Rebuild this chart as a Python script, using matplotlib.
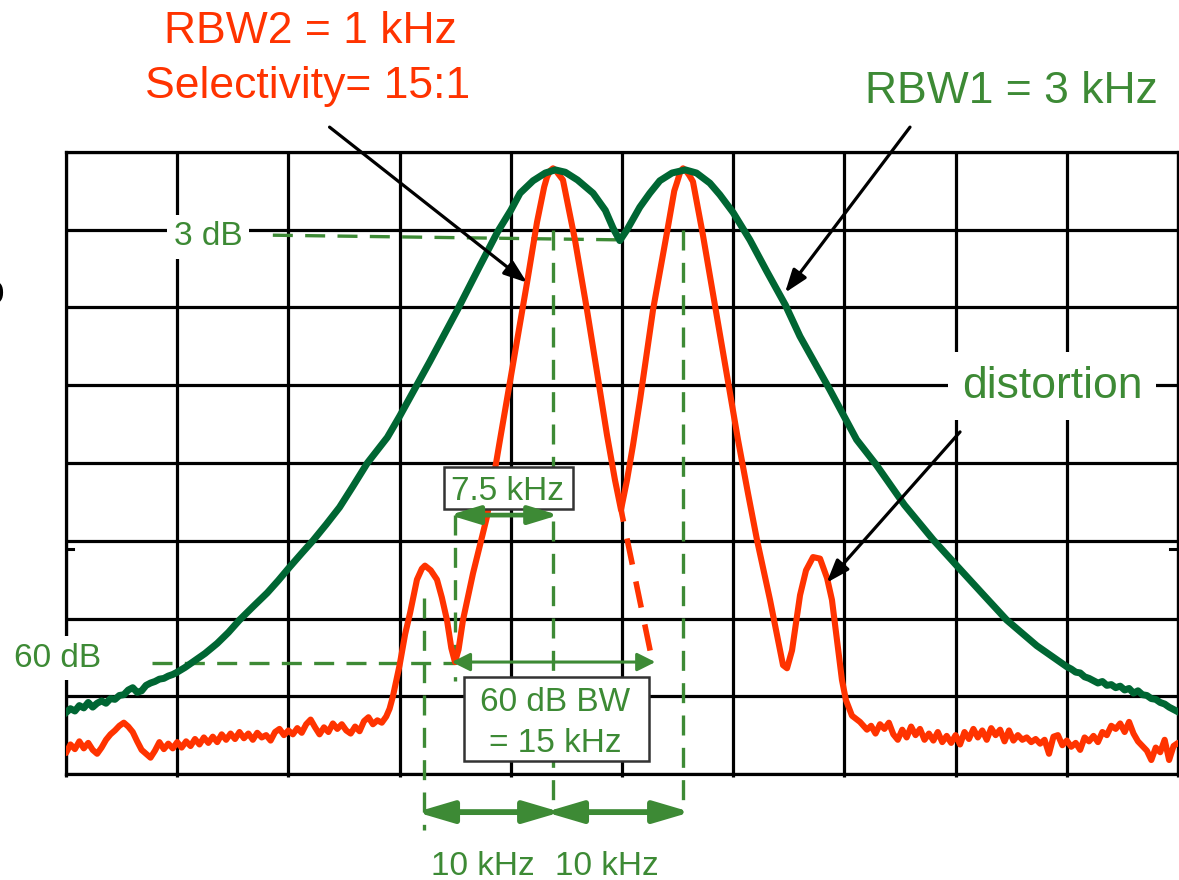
import matplotlib
matplotlib.use("Agg")
import matplotlib.pyplot as plt
from matplotlib.patches import Rectangle

plt.rcParams['font.family'] = ['Liberation Sans', 'DejaVu Sans']

# ---------------- data (x in display divisions from centre, y in dB) ----------------
# RBW2 = 1 kHz trace (orange-red)
rbw2_noise_left = [
    (-5.00, -77.3), (-4.96, -76.2), (-4.92, -76.8), (-4.88, -75.8), (-4.84, -76.7), (-4.80, -76.0),
    (-4.76, -76.9), (-4.72, -77.4), (-4.68, -76.6), (-4.64, -75.6), (-4.60, -74.9), (-4.56, -74.4),
    (-4.52, -73.8), (-4.48, -73.4), (-4.44, -73.9), (-4.40, -74.6), (-4.36, -75.8), (-4.32, -76.9),
    (-4.28, -77.4), (-4.24, -77.9), (-4.20, -77.0), (-4.16, -75.9), (-4.12, -76.8), (-4.08, -76.1),
    (-4.04, -76.7), (-4.00, -75.9), (-3.96, -76.6), (-3.92, -75.8), (-3.88, -76.4), (-3.84, -75.5),
    (-3.80, -76.2), (-3.76, -75.3), (-3.72, -76.0), (-3.68, -75.2), (-3.64, -75.9), (-3.60, -74.9),
    (-3.56, -75.6), (-3.52, -74.8), (-3.48, -75.5), (-3.44, -74.6), (-3.40, -75.4), (-3.36, -74.8),
    (-3.32, -75.6), (-3.28, -74.7), (-3.24, -75.3), (-3.20, -75.0), (-3.16, -75.7), (-3.12, -74.6),
    (-3.08, -74.2), (-3.04, -75.0), (-3.00, -74.4), (-2.96, -74.9), (-2.92, -74.1), (-2.88, -74.7),
    (-2.84, -73.6), (-2.80, -73.0), (-2.76, -74.0), (-2.72, -74.9), (-2.68, -74.0), (-2.64, -74.6),
    (-2.60, -73.5), (-2.56, -74.2), (-2.52, -73.6), (-2.48, -74.4), (-2.44, -74.8), (-2.40, -73.9),
    (-2.36, -74.5), (-2.32, -73.2), (-2.28, -72.7), (-2.24, -73.6), (-2.20, -73.1), (-2.16, -73.4),
    (-2.12, -72.6), (-2.09, -71.6),
]
rbw2_signal = [
    (-2.06, -70.0), (-2.00, -66.0), (-1.95, -62.0), (-1.906, -59.3), (-1.844, -55.0), (-1.80, -53.6),
    (-1.772, -53.2), (-1.72, -53.8), (-1.664, -55.0), (-1.62, -57.3), (-1.574, -60.2), (-1.535, -63.8),
    (-1.502, -65.6), (-1.47, -64.0), (-1.43, -60.2), (-1.34, -54.2), (-1.214, -46.9), (-1.097, -37.0),
    (-0.998, -28.8), (-0.854, -16.8), (-0.764, -9.0), (-0.70, -4.5), (-0.674, -3.2), (-0.645, -2.4),
    (-0.62, -2.1), (-0.595, -2.4), (-0.531, -3.6), (-0.423, -11.3), (-0.315, -20.3), (-0.225, -28.3),
    (-0.135, -36.4), (-0.063, -42.2), (-0.009, -46.0), (0.045, -42.2), (0.099, -37.7), (0.162, -31.9),
    (0.279, -20.3), (0.405, -10.3), (0.47, -5.0), (0.495, -3.9), (0.525, -2.5), (0.549, -2.1),
    (0.575, -2.4), (0.605, -3.0), (0.638, -3.8), (0.728, -10.7), (0.836, -19.7), (0.944, -28.7),
    (1.043, -37.0), (1.133, -43.9), (1.214, -49.9), (1.331, -57.6), (1.403, -62.8), (1.448, -66.0),
    (1.484, -66.4), (1.529, -64.1), (1.601, -57.0), (1.655, -53.8), (1.718, -52.1), (1.781, -52.3),
    (1.844, -54.8), (1.888, -57.6), (1.933, -62.8), (1.978, -67.9), (2.014, -70.5), (2.068, -72.5),
    (2.14, -73.3), (2.203, -74.3),
]
rbw2_noise_right = [
    (2.24, -73.8), (2.28, -74.8), (2.32, -73.6), (2.36, -74.2), (2.40, -73.4), (2.44, -74.9),
    (2.48, -75.6), (2.52, -74.3), (2.56, -75.3), (2.60, -73.9), (2.64, -75.0), (2.68, -74.2),
    (2.72, -75.6), (2.76, -74.8), (2.80, -75.7), (2.84, -74.6), (2.88, -75.9), (2.92, -75.1),
    (2.96, -76.0), (3.00, -75.0), (3.04, -76.2), (3.08, -74.6), (3.12, -75.5), (3.16, -74.2),
    (3.20, -75.3), (3.24, -74.4), (3.28, -75.6), (3.32, -74.1), (3.36, -75.0), (3.40, -74.3),
    (3.44, -75.8), (3.48, -74.4), (3.52, -75.7), (3.56, -75.0), (3.60, -75.6), (3.64, -75.3),
    (3.68, -75.9), (3.72, -75.5), (3.76, -76.1), (3.80, -75.6), (3.84, -77.4), (3.88, -75.2),
    (3.92, -75.0), (3.96, -76.3), (4.00, -75.7), (4.04, -76.5), (4.08, -76.0), (4.12, -76.9),
    (4.16, -75.3), (4.20, -75.8), (4.24, -75.1), (4.28, -75.9), (4.32, -74.6), (4.36, -75.0),
    (4.40, -73.8), (4.44, -74.2), (4.48, -73.5), (4.52, -74.6), (4.56, -73.3), (4.60, -74.8),
    (4.64, -75.8), (4.68, -76.4), (4.72, -77.0), (4.76, -78.2), (4.80, -76.6), (4.84, -77.2),
    (4.88, -75.6), (4.92, -78.2), (4.96, -76.4), (5.00, -76.0),
]
# dashed continuation of the first RBW2 response below the dip
rbw2_extension = [(-0.009, -46.0), (0.27, -65.3)]

# RBW1 = 3 kHz trace (dark green)
rbw1_tail_left = [
    (-5.00, -72.1), (-4.96, -71.6), (-4.92, -71.9), (-4.88, -71.2), (-4.84, -71.5), (-4.80, -70.8),
    (-4.76, -71.4), (-4.72, -70.9), (-4.68, -70.6), (-4.64, -70.9), (-4.60, -70.3), (-4.56, -70.4),
    (-4.52, -69.9), (-4.48, -69.8), (-4.44, -69.2), (-4.40, -68.9), (-4.36, -69.5), (-4.32, -69.3),
    (-4.28, -68.6), (-4.24, -68.3), (-4.20, -68.1), (-4.16, -67.8), (-4.12, -67.7), (-4.08, -67.4),
    (-4.04, -67.2), (-4.00, -66.9),
]
rbw1_main = [
    (-3.93, -66.3), (-3.86, -65.6), (-3.75, -64.5), (-3.64, -63.2), (-3.54, -61.8), (-3.44, -60.2),
    (-3.32, -58.5), (-3.19, -56.7), (-3.09, -55.1), (-2.99, -53.4), (-2.88, -51.6), (-2.78, -50.0),
    (-2.66, -47.9), (-2.54, -45.7), (-2.42, -43.0), (-2.29, -40.0), (-2.11, -36.7), (-2.00, -34.0),
    (-1.73, -27.0), (-1.48, -20.3), (-1.28, -14.7), (-1.12, -10.3), (-1.00, -7.5), (-0.917, -5.3),
    (-0.80, -3.7), (-0.69, -2.7), (-0.60, -2.3), (-0.51, -2.6), (-0.40, -3.6), (-0.26, -5.3),
    (-0.15, -7.5), (-0.08, -9.8), (-0.02, -11.4), (0.045, -10.0), (0.16, -7.1), (0.25, -5.3),
    (0.34, -3.7), (0.45, -2.7), (0.57, -2.3), (0.67, -2.7), (0.79, -4.0), (0.88, -5.5),
    (1.00, -7.8), (1.15, -11.3), (1.30, -15.3), (1.47, -19.7), (1.60, -23.7), (1.87, -30.6),
    (2.11, -37.0), (2.29, -40.3), (2.54, -45.4), (2.80, -49.9), (3.01, -53.2), (3.26, -57.1),
    (3.46, -60.2), (3.73, -63.5), (4.00, -66.2),
]
rbw1_tail_right = [
    (4.04, -66.5), (4.08, -66.9), (4.12, -67.0), (4.16, -67.5), (4.20, -67.7), (4.24, -68.0),
    (4.28, -68.3), (4.32, -68.1), (4.36, -68.6), (4.40, -68.5), (4.44, -68.9), (4.48, -68.7),
    (4.52, -69.2), (4.56, -69.0), (4.60, -69.6), (4.64, -69.3), (4.68, -69.8), (4.72, -69.9),
    (4.76, -70.3), (4.80, -70.4), (4.84, -70.8), (4.88, -71.0), (4.92, -71.4), (4.96, -71.7),
    (5.00, -72.0),
]

# markers / reading positions
peak1_x, peak2_x = -0.62, 0.549
dist_x = -1.78
bw60_left_x, bw60_right_x = -1.50, 0.27
level_3db = (-10.7, -11.3)
level_60db = -65.7

RED = '#FF3300'
DKGREEN = '#006633'
ANN = '#3D8A35'

rbw2 = rbw2_noise_left + rbw2_signal + rbw2_noise_right
rbw1 = rbw1_tail_left + rbw1_main + rbw1_tail_right
r2x, r2y = zip(*rbw2)
r1x, r1y = zip(*rbw1)
ex, ey = zip(*rbw2_extension)

W, H, DPI = 1179, 880, 100
fig = plt.figure(figsize=(W / DPI, H / DPI), dpi=DPI)
ax = fig.add_axes([66 / W, (H - 774) / H, (1178 - 66) / W, (774 - 152) / H])
ax.set_xlim(-5, 5)
ax.set_ylim(-80, 0)
ax.set_xticks(range(-5, 6))
ax.set_yticks(range(-80, 1, 10))
ax.grid(True, color='black', lw=2.3, zorder=0)
ax.set_axisbelow(True)
ax.tick_params(left=False, labelleft=False, labelbottom=False, bottom=True,
               length=2.5, width=2.3, direction='out', color='black')
for s in ax.spines.values():
    s.set_linewidth(2.3)
    s.set_zorder(0.5)

# small level marks
ax.plot([-5.0, -4.94], [-51.1, -51.1], color='black', lw=2.2, zorder=1)
ax.plot([4.93, 5.0], [-51.1, -51.1], color='black', lw=2.2, zorder=1)

# traces
ax.plot(r2x, r2y, color=RED, lw=4.4, zorder=3, solid_joinstyle='round', solid_capstyle='round')
ax.plot(ex, ey, color=RED, lw=4.0, zorder=3, linestyle=(2.6, (4.8, 3.1)))
ax.plot(r1x, r1y, color=DKGREEN, lw=5.0, zorder=4, solid_joinstyle='round')

# green dashed reference lines
dash = (0, (6, 3.7))
kw = dict(color=ANN, lw=2.4, linestyle=dash, clip_on=False, zorder=2)
ax.plot([-3.14, -0.02], list(level_3db), **kw)
ax.plot([peak1_x, peak1_x], [-10.0, -84.2], **kw)
ax.plot([peak2_x, peak2_x], [-10.0, -84.2], **kw)
ax.plot([dist_x, dist_x], [-57.3, -87.2], **kw)
ax.plot([bw60_left_x, bw60_left_x], [-46.7, -68.0], **kw)
ax.plot([-4.23, bw60_left_x], [level_60db, level_60db], **kw)

# green double arrows (tips pushed out slightly so the heads reach the marks)
def dbl(x0, x1, y, lw, hl, hw, tip=0.0):
    ax.annotate('', xy=(x1 + tip, y), xytext=(x0 - tip, y), annotation_clip=False,
                arrowprops=dict(arrowstyle=f'<|-|>,head_length={hl},head_width={hw}',
                                mutation_scale=10, lw=lw, color=ANN,
                                shrinkA=0, shrinkB=0), zorder=8)

dbl(bw60_left_x, peak1_x, -46.7, 3.4, 1.8, 0.55, tip=0.05)
dbl(bw60_left_x, bw60_right_x, -65.6, 2.2, 1.1, 0.55, tip=0.03)
dbl(dist_x, peak1_x, -84.9, 4.2, 2.2, 0.65, tip=0.07)
dbl(peak1_x, peak2_x, -84.9, 4.2, 2.2, 0.65, tip=0.07)

# black pointer arrows
def ptr(tail, head):
    ax.annotate('', xy=head, xytext=tail, annotation_clip=False,
                arrowprops=dict(arrowstyle='-|>,head_length=1.4,head_width=0.5',
                                mutation_scale=10, lw=2.3, color='black',
                                shrinkA=0, shrinkB=0), zorder=9)

ptr((-2.63, 3.2), (-0.854, -16.8))
ptr((2.59, 3.2), (1.466, -18.1))
ptr((3.04, -36.0), (1.84, -55.4))

# boxes
ax.add_patch(Rectangle((-1.601, -45.9), 1.160, 5.4, facecolor='white', edgecolor='#333333',
                       lw=1.8, clip_on=False, zorder=6))
ax.add_patch(Rectangle((-1.421, -78.3), 1.664, 10.8, facecolor='white', edgecolor='#333333',
                       lw=1.8, clip_on=False, zorder=6))

# texts
ax.text(-1.030, -44.8, '7.5 kHz', color=ANN, fontsize=24, ha='center', va='baseline', zorder=7)
ax.text(-0.603, -71.9, '60 dB BW', color=ANN, fontsize=24, ha='center', va='baseline', zorder=7)
ax.text(-0.603, -77.2, '= 15 kHz', color=ANN, fontsize=24, ha='center', va='baseline', zorder=7)
ax.text(-1.254, -93.0, '10 kHz', color=ANN, fontsize=24, ha='center', va='baseline')
ax.text(-0.139, -93.0, '10 kHz', color=ANN, fontsize=24, ha='center', va='baseline')

wb = dict(facecolor='white', edgecolor='none', boxstyle='square,pad=0.2')
ax.text(-3.723, -12.0, '3 dB', color=ANN, fontsize=24, ha='center', va='baseline', bbox=wb, zorder=5)
ax.text(-5.468, -66.2, '60 dB', color=ANN, fontsize=24, ha='left', va='baseline', bbox=wb, zorder=5)
ax.text(3.867, -31.6, 'distortion', color=ANN, fontsize=32, ha='center', va='baseline',
        bbox=dict(facecolor='white', edgecolor='none', boxstyle='square,pad=0.3'), zorder=5)

ax.text(-2.806, 14.0, 'RBW2 = 1 kHz', color=RED, fontsize=32, ha='center', va='baseline')
ax.text(-2.824, 7.0, 'Selectivity= 15:1', color=RED, fontsize=32, ha='center', va='baseline')
ax.text(3.498, 6.3, 'RBW1 = 3 kHz', color=ANN, fontsize=32, ha='center', va='baseline')
# glyph partly cut off at the left edge, as in the reference
ax.text(-5.558, -19.5, 'o', color='black', fontsize=31, ha='right', va='baseline')

fig.savefig('out.png', dpi=DPI)
